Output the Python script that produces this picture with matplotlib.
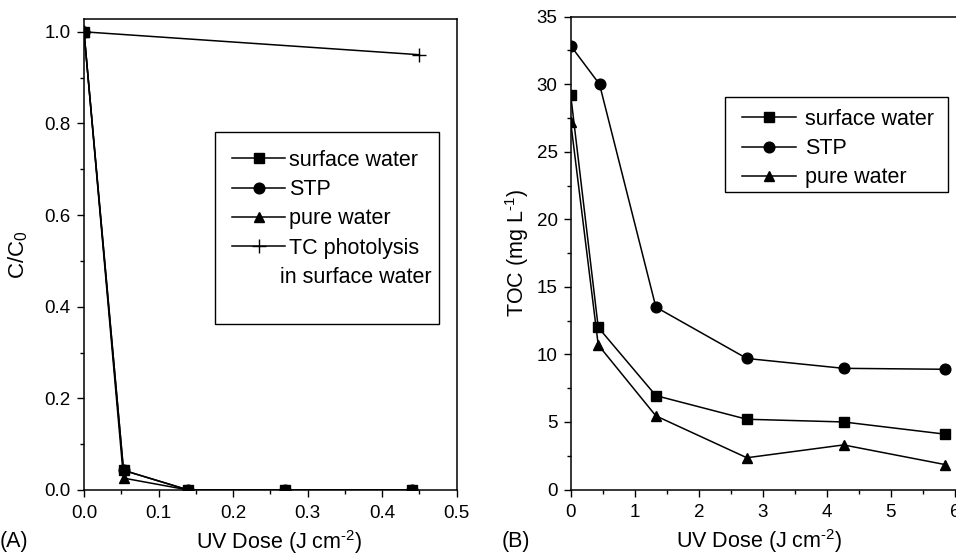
import numpy as np
import matplotlib
matplotlib.use('Agg')
import matplotlib.pyplot as plt
from matplotlib.lines import Line2D
from matplotlib.patches import Rectangle
from matplotlib.ticker import MultipleLocator

plt.rcParams['font.family'] = ['Liberation Sans', 'DejaVu Sans']
plt.rcParams['mathtext.fontset'] = 'custom'
plt.rcParams['mathtext.rm'] = 'Liberation Sans'
plt.rcParams['mathtext.it'] = 'Liberation Sans'

# Panel A: relative concentration vs UV dose
dose_a = [0, 0.053, 0.14, 0.27, 0.44]
surface_a = [1.0, 0.043, 0.0, 0.0, 0.0]
stp_a = [1.0, 0.043, 0.0, 0.0, 0.0]
pure_a = [1.0, 0.026, 0.0, 0.0, 0.0]
photo_dose = [0, 0.45]
photo_a = [1.0, 0.95]

# Panel B: TOC vs UV dose
dose_b = [0, 0.43, 1.33, 2.75, 4.26, 5.84]
dose_b_stp = [0, 0.45, 1.33, 2.75, 4.26, 5.84]
surface_b = [29.2, 12.0, 6.95, 5.2, 5.0, 4.1]
stp_b = [32.85, 30.0, 13.5, 9.7, 8.97, 8.9]
pure_b = [27.2, 10.7, 5.45, 2.35, 3.3, 1.85]

tick_fs = 13.5
leg_fs = 15.5
lab_fs = 15.5

fig = plt.figure(figsize=(9.56, 5.55), dpi=100)
ax1 = fig.add_axes([84/956, 65/555, 372.7/956, 471/555])
ax2 = fig.add_axes([570.7/956, 65.5/555, 385.3/956, 472.8/555])

mk = dict(color='black', lw=1.1, markersize=7.7)

# ---- panel A
ax1.plot(dose_a, stp_a, '-o', zorder=3, **mk)
ax1.plot(dose_a, pure_a, '-^', zorder=3, **mk)
ax1.plot(dose_a, surface_a, '-s', zorder=4, **mk)
ax1.plot(photo_dose, photo_a, '-+', color='black', lw=1.1,
         markersize=10, markeredgewidth=1)

ax1.add_patch(Rectangle((0.3515, 0.3535), 0.601, 0.4066, transform=ax1.transAxes,
                        facecolor='white', edgecolor='black', lw=1.0, zorder=5))
blank = Line2D([], [], color='none')
handles1 = [Line2D([], [], marker='s', **mk),
            Line2D([], [], marker='o', **mk),
            Line2D([], [], marker='^', **mk),
            Line2D([], [], marker='+', color='black', lw=1.1, markersize=10,
                   markeredgewidth=1),
            blank, blank]
labels1 = ['surface water', 'STP', 'pure water', 'TC photolysis',
           'in surface water', ' ']
leg1 = ax1.legend(handles1, labels1, loc='upper left',
                  bbox_to_anchor=(0.397, 0.7225), frameon=False,
                  fontsize=leg_fs, handlelength=2.47, handletextpad=0.19,
                  borderpad=0, labelspacing=0.39, borderaxespad=0)
leg1.set_zorder(6)
leg1.get_texts()[4].set_x(-9)

ax1.set_xlim(0, 0.5)
ax1.set_ylim(0, 1.028)
ax1.xaxis.set_major_locator(MultipleLocator(0.1))
ax1.xaxis.set_minor_locator(MultipleLocator(0.05))
ax1.yaxis.set_major_locator(MultipleLocator(0.2))
ax1.yaxis.set_minor_locator(MultipleLocator(0.1))
ax1.set_xticks(np.arange(0, 0.51, 0.1))
ax1.set_xticklabels(['0.0', '0.1', '0.2', '0.3', '0.4', '0.5'])
ax1.set_ylabel('C/C$_0$', fontsize=16, va='center')
ax1.yaxis.set_label_coords(-0.177, 0.5)
ax1.set_xlabel(r'UV Dose (J cm$^{\text{-2}}$)', fontsize=lab_fs, va='center')
ax1.xaxis.set_label_coords(0.525, -0.11)
fig.text(0.006, 555 - 542, '(A)', fontsize=lab_fs, ha='left', va='center',
         transform=None)

# ---- panel B
ax2.plot(dose_b, surface_b, '-s', **mk)
ax2.plot(dose_b_stp, stp_b, '-o', **mk)
ax2.plot(dose_b, pure_b, '-^', **mk)
ax2.add_patch(Rectangle((0.4005, 0.6292), 0.578, 0.2001, transform=ax2.transAxes,
                        facecolor='white', edgecolor='black', lw=1.0, zorder=5))
handles2 = [Line2D([], [], marker='s', **mk),
            Line2D([], [], marker='o', **mk),
            Line2D([], [], marker='^', **mk)]
labels2 = ['surface water', 'STP', 'pure water']
leg2 = ax2.legend(handles2, labels2, loc='upper left',
                  bbox_to_anchor=(0.4438, 0.8054), frameon=False,
                  fontsize=leg_fs, handlelength=2.5, handletextpad=0.45,
                  borderpad=0, labelspacing=0.39, borderaxespad=0)
leg2.set_zorder(6)

ax2.set_xlim(0, 6.016)
ax2.set_ylim(0, 35)
ax2.xaxis.set_major_locator(MultipleLocator(1))
ax2.xaxis.set_minor_locator(MultipleLocator(0.5))
ax2.yaxis.set_major_locator(MultipleLocator(5))
ax2.yaxis.set_minor_locator(MultipleLocator(2.5))
ax2.set_ylabel(r'TOC (mg L$^{\text{-1}}$)', fontsize=lab_fs, va='center')
ax2.yaxis.set_label_coords(-0.14, 0.5)
ax2.set_xlabel(r'UV Dose (J cm$^{\text{-2}}$)', fontsize=lab_fs, va='center')
ax2.xaxis.set_label_coords(0.489, -0.11)
ax2.spines['right'].set_visible(False)
fig.text(502, 555 - 542, '(B)', fontsize=lab_fs, ha='left', va='center',
         transform=None)

for ax in (ax1, ax2):
    ax.tick_params(which='major', direction='out', length=5, width=1,
                   labelsize=tick_fs, colors='black')
    ax.tick_params(axis='x', which='major', pad=5.5)
    ax.tick_params(axis='y', which='major', pad=4.5)
    ax.tick_params(which='minor', direction='out', length=3, width=1)
    for s in ax.spines.values():
        s.set_linewidth(1.1)

fig.savefig('out.png', dpi=100)
